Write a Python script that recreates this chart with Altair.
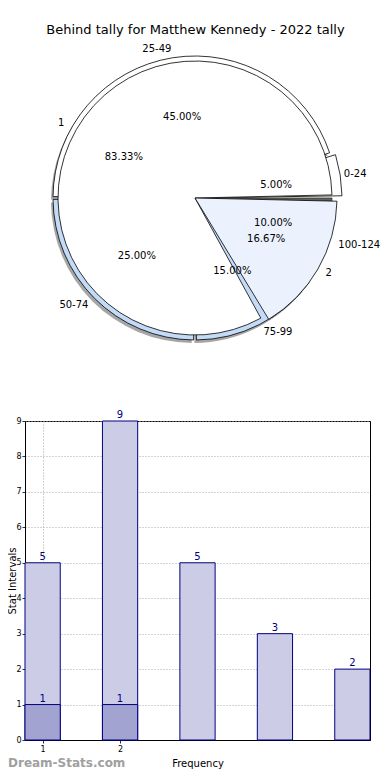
import math
import altair as alt
import pandas as pd

# ---------------- data ----------------
title_text = "Behind tally for Matthew Kennedy - 2022 tally"
outer_labels = ["0-24", "25-49", "50-74", "75-99", "100-124"]
outer_counts = [1, 9, 5, 3, 2]
inner_labels = ["1", "2"]
inner_counts = [5, 1]

bar_positions = [1, 2, 3, 4, 5]
bar_values = [5, 9, 5, 3, 2]
overlay_positions = [1, 2]
overlay_values = [1, 1]
x_tick_values = [1, 2]
y_tick_values = [0, 1, 2, 3, 4, 5, 6, 7, 8, 9]
x_title = "Frequency"
y_title = "Stat Intervals"
watermark = "Dream-Stats.com"


def pie_table(labels, counts):
    total = float(sum(counts))
    rows, acc = [], 0.0
    for lab, c in zip(labels, counts):
        pct = 100.0 * c / total
        rows.append({"label": lab, "pct": pct, "start": acc,
                     "end": acc + pct, "mid": acc + pct / 2})
        acc += pct
    return pd.DataFrame(rows)


outer_df = pie_table(outer_labels, outer_counts)
inner_df = pie_table(inner_labels, inner_counts)
labels_df = pd.concat([outer_df, inner_df], ignore_index=True)
bars_df = pd.DataFrame({"pos": bar_positions, "value": bar_values})
over_df = pd.DataFrame({"pos": overlay_positions, "value": overlay_values})

# ---------------- styles ----------------
FONT = "DejaVu Sans"
W, H = 345, 319
PAD = {"left": 17, "top": 413, "right": 12, "bottom": 32}
CX, CY = 170, -223          # pie centre relative to plot origin
R = 137
NAVY = "#000080"
HALF = 0.2275

THETA = alt.Scale(domain=[0, 100], range=[2.5 * math.pi, 0.5 * math.pi])


def arcs(df):
    return alt.Chart(df).encode(
        theta=alt.Theta("start:Q", scale=THETA, stack=False),
        theta2="end:Q",
        x=alt.value(CX), y=alt.value(CY),
    )


shadow = arcs(outer_df).transform_filter(
    alt.FieldOneOfPredicate(field="label", oneOf=["25-49", "50-74", "75-99"])
).mark_arc(outerRadius=R + 5, fill="#808080", opacity=0.7, padAngle=0.02).encode(
    x=alt.value(CX - 2), y=alt.value(CY + 3))

base100 = arcs(outer_df).transform_filter(alt.datum.label == "100-124").mark_arc(
    outerRadius=R, fill="#5f6658", stroke="#333333", strokeWidth=0.8)

ring = arcs(outer_df).transform_filter(
    alt.FieldOneOfPredicate(field="label", oneOf=["25-49", "50-74", "75-99"])
).mark_arc(outerRadius=R + 5, stroke="black", strokeWidth=0.8, padAngle=0.02).encode(
    fill=alt.condition(alt.FieldOneOfPredicate(field="label", oneOf=["50-74", "75-99"]),
                       alt.value("#c4dbf7"), alt.value("white")))

piece = arcs(outer_df).transform_filter(alt.datum.label == "0-24").mark_arc(
    outerRadius=R + 10, fill="white", stroke="black", strokeWidth=0.8, padAngle=0.03)

inner1 = arcs(inner_df).transform_filter(alt.datum.label == "1").mark_arc(
    outerRadius=R, stroke="black", strokeWidth=0.8, padAngle=0.045, fill="white")

inner2 = arcs(inner_df).transform_filter(alt.datum.label == "2").mark_arc(
    outerRadius=R + 5, stroke="black", strokeWidth=0.8, padAngle=0.045, fill="#ebf2fd")

right_side = "datum.mid < 25 || datum.mid > 75"
left_side = "datum.mid >= 25 && datum.mid <= 75"


def name_labels(expr, align):
    return alt.Chart(labels_df).transform_filter(expr).mark_text(
        align=align, baseline="middle", radius=R * 1.1, fontSize=10, font=FONT,
        color="black").encode(
        theta=alt.Theta("mid:Q", scale=THETA, stack=False),
        text="label:N", x=alt.value(CX), y=alt.value(CY))


names_r = name_labels(right_side, "left")
names_l = name_labels(left_side, "right")

pcts = alt.Chart(labels_df).transform_calculate(
    ptxt="format(datum.pct / 100, '.2%')").mark_text(
    align="center", baseline="middle", radius=R * 0.6, fontSize=10, font=FONT,
    color="black").encode(
    theta=alt.Theta("mid:Q", scale=THETA, stack=False),
    text="ptxt:N", x=alt.value(CX), y=alt.value(CY))

title = alt.Chart(pd.DataFrame({"t": [title_text]})).mark_text(
    fontSize=13, font=FONT, color="black", align="center", baseline="middle").encode(
    text="t:N", x=alt.value(W / 2 - 2), y=alt.value(-391))

# ---------------- bars ----------------
XS = alt.Scale(domain=[min(bar_positions) - HALF, max(bar_positions) + HALF],
               nice=False, zero=False)
YS = alt.Scale(domain=[0, 9], nice=False)
XAX = alt.Axis(values=x_tick_values, format="d", title=x_title, grid=True,
               gridDash=[1, 2], gridColor="#a8a8a8", gridWidth=1,
               labelFontSize=8, titleFontSize=10, titleFontWeight="normal",
               labelFont=FONT, titleFont=FONT, domainColor="black",
               tickColor="#333333", tickSize=3, labelPadding=2, titlePadding=5,
               labelColor="black", titleColor="black")
YAX = alt.Axis(values=y_tick_values, format="d", title=y_title, grid=True,
               gridDash=[1, 2], gridColor="#a8a8a8", gridWidth=1,
               labelFontSize=8, titleFontSize=10, titleFontWeight="normal",
               labelFont=FONT, titleFont=FONT, domainColor="black",
               tickColor="#333333", tickSize=3, labelPadding=1,
               titleX=-9.5, titleBaseline="alphabetic",
               labelColor="black", titleColor="black")


def bar_layer(df, fill):
    return alt.Chart(df).transform_calculate(
        x0=f"datum.pos - {HALF}", x1=f"datum.pos + {HALF}").mark_bar(
        fill=fill, stroke=NAVY, strokeWidth=1).encode(
        x=alt.X("x0:Q", scale=XS, axis=XAX), x2="x1:Q",
        y=alt.Y("value:Q", scale=YS, axis=YAX), y2=alt.datum(0))


def bar_text(df):
    return alt.Chart(df).mark_text(
        baseline="bottom", dy=-1, fontSize=10, font=FONT, color=NAVY).encode(
        x=alt.X("pos:Q", scale=XS, axis=XAX),
        y=alt.Y("value:Q", scale=YS, axis=YAX),
        text="value:Q")


bars = bar_layer(bars_df, "#ccccE6")
overs = bar_layer(over_df, "#a3a3d1")
bars_t = bar_text(bars_df)
overs_t = bar_text(over_df)

mark_wm = alt.Chart(pd.DataFrame({"t": [watermark]})).mark_text(
    align="left", baseline="middle", fontSize=12, font=FONT, fontWeight="bold",
    color="#a0a0a0").encode(text="t:N", x=alt.value(-PAD["left"]), y=alt.value(H + 23))

chart = alt.layer(
    bars, overs, bars_t, overs_t,
    shadow, base100, ring, piece, inner1, inner2, names_r, names_l, pcts, title, mark_wm,
).properties(
    width=W, height=H,
    padding=PAD,
    autosize=alt.AutoSizeParams(type="none"),
    background="white",
).configure_view(stroke="black", strokeWidth=1)

chart.save("out.html", embed_options={"renderer": "svg", "actions": False})
